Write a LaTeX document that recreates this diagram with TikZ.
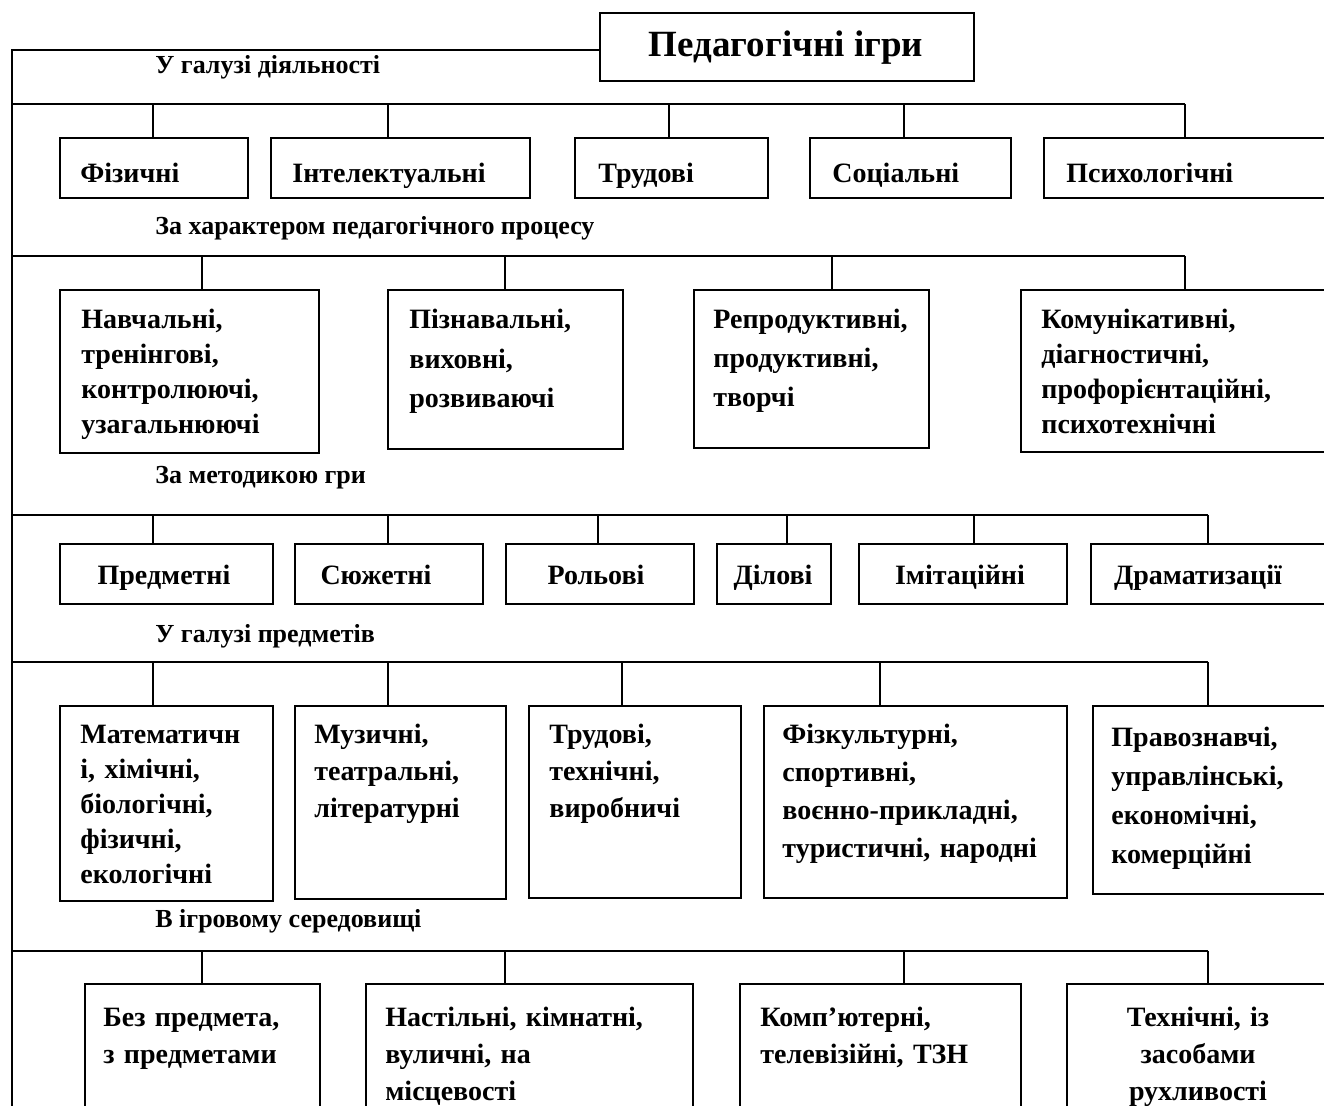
\documentclass[tikz,border=0pt]{standalone}
\usepackage{fontspec}
\setmainfont{Liberation Serif}
\usetikzlibrary{calc}
\newcommand\mybox[5]{\node[boxf, anchor=north west, minimum width={(#4-#2)*0.5pt}, minimum height={(#5-#3)*0.5pt}] (#1) at (#2,#3) {};}
\begin{document}
\begin{tikzpicture}[x=0.5pt,y=-0.5pt,
  boxf/.style={draw, line width=1.1pt, rectangle, inner sep=0pt},
  txt/.style={font=\bfseries\fontsize{14}{#1}\selectfont, inner sep=0pt, align=left, text width=190pt, anchor=base west},
  ctxt/.style={font=\bfseries\fontsize{14}{#1}\selectfont, inner sep=0pt, align=center, text width=140pt, anchor=base},
  lab/.style={font=\bfseries\fontsize{13}{15}\selectfont, inner sep=0pt, anchor=base west},
  busl/.style={line width=1.4pt},
  spinel/.style={line width=1.1pt},
  dropl/.style={line width=0.6pt}]
\useasboundingbox (0,0) rectangle (1324,1106);
\clip (0,0) rectangle (1324,1106);
\fill[white] (0,0) rectangle (1324,1106);

% title
\mybox{root}{599}{12}{973}{80}
\node[font=\bfseries\fontsize{18.5}{22}\selectfont, inner sep=0pt, anchor=base] (roott) at (786,57) {Педагогічні ігри};
\coordinate (top) at (12,50);
\coordinate (bot) at (12,1120);
\draw[spinel] (root.west |- top) -- (top) -- (bot);

% ---------- row 1
\node[lab] (l1) at (155,74) {У галузі діяльності};
\coordinate (s1) at (12,104);
\coordinate (d11) at (153,104);
\coordinate (d12) at (388,104);
\coordinate (d13) at (669,104);
\coordinate (d14) at (904,104);
\coordinate (d15) at (1185,104);
\draw[busl] (s1) -- (d15);
\mybox{b11}{59}{137}{247}{197}
\mybox{b12}{270}{137}{529}{197}
\mybox{b13}{574}{137}{767}{197}
\mybox{b14}{809}{137}{1010}{197}
\mybox{b15}{1043}{137}{1360}{197}
\node[txt=17.5pt] (t11) at (80,183) {Фізичні};
\node[txt=17.5pt] (t12) at (292,183) {Інтелектуальні};
\node[txt=17.5pt] (t13) at (598,183) {Трудові};
\node[txt=17.5pt] (t14) at (832,183) {Соціальні};
\node[txt=17.5pt] (t15) at (1066,183) {Психологічні};
\foreach \i in {11,12,13,14,15} \draw[dropl] (d\i) -- (d\i |- b\i.north);

% ---------- row 2
\node[lab] (l2) at (155,235) {За характером педагогічного процесу};
\coordinate (s2) at (12,256);
\coordinate (d21) at (202,256);
\coordinate (d22) at (505,256);
\coordinate (d23) at (832,256);
\coordinate (d24) at (1185,256);
\draw[busl] (s2) -- (d24);
\mybox{b21}{59}{289}{318}{452}
\mybox{b22}{387}{289}{622}{448}
\mybox{b23}{693}{289}{928}{447}
\mybox{b24}{1020}{289}{1360}{451}
\node[txt=17.5pt] (t21) at (81,329) {Навчальні,\\тренінгові,\\контролюючі,\\узагальнюючі};
\node[txt=19.75pt] (t22) at (409,329) {Пізнавальні,\\виховні,\\розвиваючі};
\node[txt=19.5pt] (t23) at (713,329) {Репродуктивні,\\продуктивні,\\творчі};
\node[txt=17.5pt] (t24) at (1041,329) {Комунікативні,\\діагностичні,\\профорієнтаційні,\\психотехнічні};
\foreach \i in {21,22,23,24} \draw[dropl] (d\i) -- (d\i |- b\i.north);

% ---------- row 3
\node[lab] (l3) at (155,484) {За методикою гри};
\coordinate (s3) at (12,515);
\coordinate (d31) at (153,515);
\coordinate (d32) at (388,515);
\coordinate (d33) at (598,515);
\coordinate (d34) at (787,515);
\coordinate (d35) at (974,515);
\coordinate (d36) at (1208,515);
\draw[busl] (s3) -- (d36);
\mybox{b31}{59}{543}{272}{603}
\mybox{b32}{294}{543}{482}{603}
\mybox{b33}{505}{543}{693}{603}
\mybox{b34}{716}{543}{830}{603}
\mybox{b35}{858}{543}{1066}{603}
\mybox{b36}{1090}{543}{1360}{603}
\node[ctxt=17.5pt] (t31) at (164,585) {Предметні};
\node[ctxt=17.5pt] (t32) at (376,585) {Сюжетні};
\node[ctxt=17.5pt] (t33) at (596,585) {Рольові};
\node[ctxt=17.5pt] (t34) at (773,585) {Ділові};
\node[ctxt=17.5pt] (t35) at (960,585) {Імітаційні};
\node[ctxt=17.5pt] (t36) at (1198,585) {Драматизації};
\foreach \i in {31,32,33,34,35,36} \draw[dropl] (d\i) -- (d\i |- b\i.north);

% ---------- row 4
\node[lab] (l4) at (155,643) {У галузі предметів};
\coordinate (s4) at (12,662);
\coordinate (d41) at (153,662);
\coordinate (d42) at (388,662);
\coordinate (d43) at (622,662);
\coordinate (d44) at (880,662);
\coordinate (d45) at (1208,662);
\draw[busl] (s4) -- (d45);
\mybox{b41}{59}{705}{272}{900}
\mybox{b42}{294}{705}{505}{898}
\mybox{b43}{528}{705}{740}{897}
\mybox{b44}{763}{705}{1066}{897}
\mybox{b45}{1092}{705}{1360}{893}
\node[txt=17.5pt] (t41) at (80,744) {Математичн\\і, хімічні,\\біологічні,\\фізичні,\\екологічні};
\node[txt=18.5pt] (t42) at (314,744) {Музичні,\\театральні,\\літературні};
\node[txt=18.5pt] (t43) at (549,744) {Трудові,\\технічні,\\виробничі};
\node[txt=19pt] (t44) at (782,744) {Фізкультурні,\\спортивні,\\воєнно-прикладні,\\туристичні, народні};
\node[txt=19.5pt] (t45) at (1111,747) {Правознавчі,\\управлінські,\\економічні,\\комерційні};
\foreach \i in {41,42,43,44,45} \draw[dropl] (d\i) -- (d\i |- b\i.north);

% ---------- row 5
\node[lab] (l5) at (155,928) {В ігровому середовищі};
\coordinate (s5) at (12,951);
\coordinate (d51) at (202,951);
\coordinate (d52) at (505,951);
\coordinate (d53) at (904,951);
\coordinate (d54) at (1208,951);
\draw[busl] (s5) -- (d54);
\mybox{b51}{84}{983}{319}{1140}
\mybox{b52}{365}{983}{692}{1140}
\mybox{b53}{739}{983}{1020}{1140}
\mybox{b54}{1066}{983}{1360}{1140}
\node[txt=18.5pt] (t51) at (103,1027) {Без предмета,\\з предметами};
\node[txt=18.5pt] (t52) at (385,1027) {Настільні, кімнатні,\\вуличні, на\\місцевості};
\node[txt=18.5pt] (t53) at (760,1027) {Комп’ютерні,\\телевізійні, ТЗН};
\node[ctxt=18.5pt] (t54) at (1198,1027) {Технічні, із\\засобами\\рухливості};
\foreach \i in {51,52,53,54} \draw[dropl] (d\i) -- (d\i |- b\i.north);
\end{tikzpicture}
\end{document}
